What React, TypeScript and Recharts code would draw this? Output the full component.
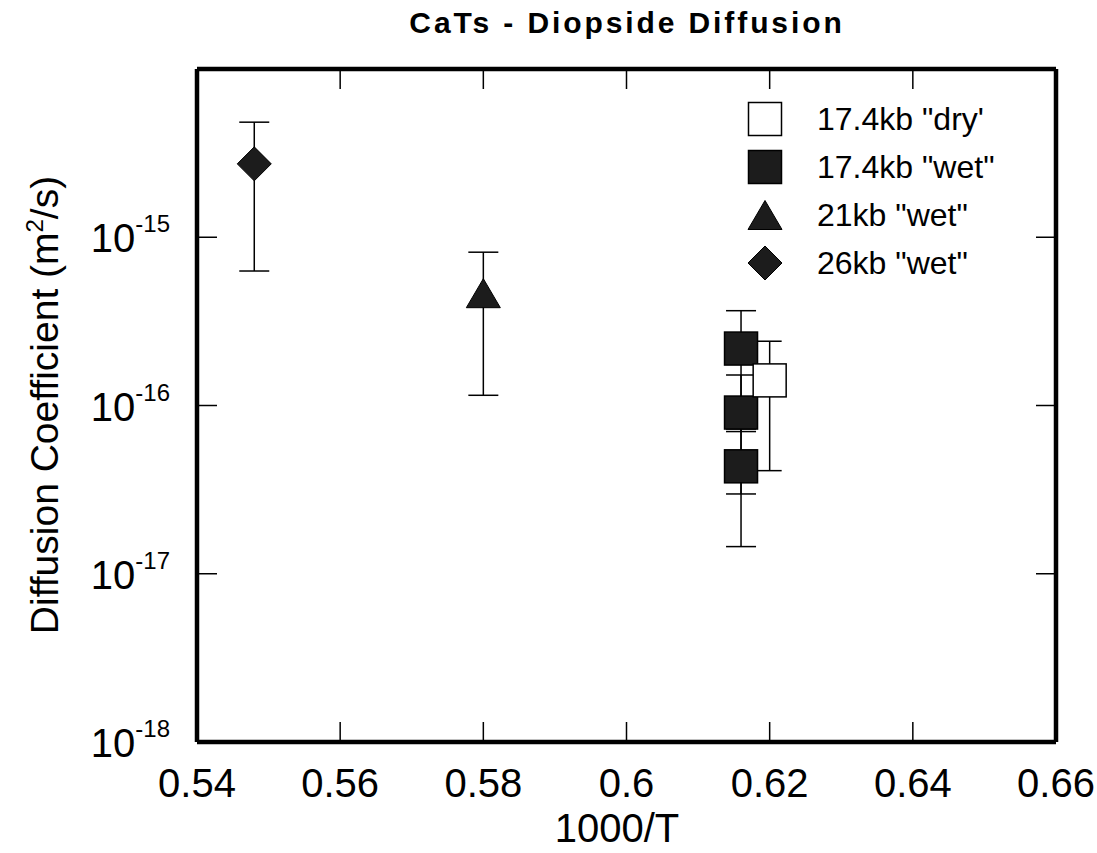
import React from 'react';
import { ScatterChart, Scatter, XAxis, YAxis, ErrorBar, Legend, Customized } from 'recharts';

const FONT = '"Liberation Sans", Arial, Helvetica, sans-serif';
const INK = '#000';
const DARK = '#1c1c1c';

// axis ticks
const xTicks = [0.54, 0.56, 0.58, 0.6, 0.62, 0.64, 0.66];
const yTicks = [1e-18, 1e-17, 1e-16, 1e-15, 1e-14];

// series (1000/T, D in m2/s, +/- error)
const dryX = [0.62];
const dryY = [1.41e-16];
const dryErr = [1.0e-16];

const wetX = [0.616, 0.616, 0.616];
const wetY = [2.18e-16, 9.08e-17, 4.35e-17];
const wetErr = [1.48e-16, 6.1e-17, 2.9e-17];

const kb21X = [0.58];
const kb21Y = [4.65e-16];
const kb21Err = [3.5e-16];

const kb26X = [0.548];
const kb26Y = [2.73e-15];
const kb26Err = [2.1e-15];

const seriesNames = ['17.4kb "dry\'', '17.4kb "wet"', '21kb "wet"', '26kb "wet"'];
const seriesKinds = ['open', 'square', 'triangle', 'diamond'];

const toRows = (xs: number[], ys: number[], errs: number[]) =>
  xs.map((x, i) => ({ x, y: ys[i], err: [errs[i], errs[i]] }));

function marker(kind: string, cx: number, cy: number) {
  if (kind === 'open' || kind === 'square') {
    return (
      <rect
        x={cx - 16.5}
        y={cy - 16.5}
        width={33}
        height={33}
        fill={kind === 'open' ? '#fff' : DARK}
        stroke={INK}
        strokeWidth={1.5}
      />
    );
  }
  if (kind === 'triangle') {
    return (
      <polygon
        points={`${cx},${cy - 14.5} ${cx + 17},${cy + 14.5} ${cx - 17},${cy + 14.5}`}
        fill={DARK}
        stroke={INK}
        strokeWidth={1}
      />
    );
  }
  return (
    <polygon
      points={`${cx},${cy - 17} ${cx + 17},${cy} ${cx},${cy + 17} ${cx - 17},${cy}`}
      fill={DARK}
      stroke={INK}
      strokeWidth={1}
    />
  );
}

const shapeFor = (kind: string) => (props: any) => marker(kind, props.cx, props.cy);

// bottom axis: inward tick marks + labels below
const BottomTick = ({ x, y, payload }: any) => {
  const v = payload.value;
  const inner = v > 0.545 && v < 0.655;
  return (
    <g>
      {inner && <line x1={x} x2={x} y1={y} y2={y - 20} stroke={INK} strokeWidth={1.5} />}
      <text x={x} y={y + 55} textAnchor="middle" fontSize={40} fontFamily={FONT} fill={INK}>
        {String(v)}
      </text>
    </g>
  );
};

const TopTick = ({ x, y, payload }: any) => {
  const v = payload.value;
  if (v < 0.545 || v > 0.655) return <g />;
  return <line x1={x} x2={x} y1={y} y2={y + 20} stroke={INK} strokeWidth={1.5} />;
};

const LeftTick = ({ x, y, payload }: any) => {
  const exp = Math.round(Math.log10(payload.value));
  return (
    <g>
      {exp > -18 && exp < -14 && (
        <line x1={x} x2={x + 20} y1={y} y2={y} stroke={INK} strokeWidth={1.5} />
      )}
      {exp <= -15 && (
        <text x={x - 27} y={y + 15} textAnchor="end" fontSize={40} fontFamily={FONT} fill={INK}>
          10
          <tspan dy={-20} fontSize={24}>
            {String(exp)}
          </tspan>
        </text>
      )}
    </g>
  );
};

const RightTick = ({ x, y, payload }: any) => {
  const exp = Math.round(Math.log10(payload.value));
  if (exp <= -18 || exp >= -14) return <g />;
  return <line x1={x} x2={x - 20} y1={y} y2={y} stroke={INK} strokeWidth={1.5} />;
};

const LegendBox = () => (
  <div style={{ fontFamily: FONT, fontSize: 32, color: INK }}>
    {seriesNames.map((name, i) => (
      <div key={name} style={{ display: 'flex', alignItems: 'center', height: 48 }}>
        <svg width={36} height={36} style={{ display: 'block' }}>
          {marker(seriesKinds[i], 18, 18)}
        </svg>
        <span style={{ marginLeft: 34, whiteSpace: 'pre', lineHeight: '36px' }}>{name}</span>
      </div>
    ))}
  </div>
);

const Titles = () => (
  <g fontFamily={FONT} fill={INK}>
    <text
      x={627}
      y={33}
      textAnchor="middle"
      fontSize={30}
      fontWeight="bold"
      letterSpacing={2.9}
    >
      CaTs - Diopside Diffusion
    </text>
    <text x={617} y={842} textAnchor="middle" fontSize={40}>
      1000/T
    </text>
    <text x={58} y={405} textAnchor="middle" fontSize={39} transform="rotate(-90, 58, 405)">
      Diffusion Coefficient (m
      <tspan dy={-15} fontSize={24}>
        2
      </tspan>
      <tspan dy={15}>/s)</tspan>
    </text>
  </g>
);

const noMark = () => <g />;

export default function App() {
  return (
    <div style={{ position: 'absolute', left: 0, top: 0, background: '#fff' }}>
      <ScatterChart width={1097} height={853} margin={{ top: 68, right: 40, bottom: 0, left: 0 }}>
        <XAxis
          xAxisId="b"
          dataKey="x"
          type="number"
          domain={[0.54, 0.66]}
          ticks={xTicks}
          interval={0}
          height={111}
          allowDataOverflow
          axisLine={{ stroke: INK, strokeWidth: 4.5 }}
          tickLine={false}
          tickSize={0}
          tickMargin={0}
          tick={<BottomTick />}
        />
        <XAxis
          xAxisId="t"
          dataKey="x"
          orientation="top"
          type="number"
          domain={[0.54, 0.66]}
          ticks={xTicks}
          interval={0}
          height={1}
          allowDataOverflow
          axisLine={{ stroke: INK, strokeWidth: 4.5 }}
          tickLine={false}
          tickSize={0}
          tickMargin={0}
          tick={<TopTick />}
        />
        <YAxis
          yAxisId="l"
          dataKey="y"
          type="number"
          scale="log"
          domain={[1e-18, 1e-14]}
          ticks={yTicks}
          interval={0}
          width={197}
          allowDataOverflow
          axisLine={{ stroke: INK, strokeWidth: 4.5 }}
          tickLine={false}
          tickSize={0}
          tickMargin={0}
          tick={<LeftTick />}
        />
        <YAxis
          yAxisId="r"
          dataKey="y"
          orientation="right"
          type="number"
          scale="log"
          domain={[1e-18, 1e-14]}
          ticks={yTicks}
          interval={0}
          width={1}
          allowDataOverflow
          axisLine={{ stroke: INK, strokeWidth: 4.5 }}
          tickLine={false}
          tickSize={0}
          tickMargin={0}
          tick={<RightTick />}
        />
        {/* invisible series so the top/right frame axes are drawn */}
        <Scatter
          data={toRows(wetX, wetY, wetErr)}
          xAxisId="t"
          yAxisId="r"
          shape={noMark}
          legendType="none"
          isAnimationActive={false}
        />
        <Scatter
          name={seriesNames[1]}
          data={toRows(wetX, wetY, wetErr)}
          xAxisId="b"
          yAxisId="l"
          shape={shapeFor('square')}
          isAnimationActive={false}
        >
          <ErrorBar dataKey="err" direction="y" width={15} stroke={INK} strokeWidth={1.5} />
        </Scatter>
        <Scatter
          name={seriesNames[0]}
          data={toRows(dryX, dryY, dryErr)}
          xAxisId="b"
          yAxisId="l"
          shape={shapeFor('open')}
          isAnimationActive={false}
        >
          <ErrorBar dataKey="err" direction="y" width={12} stroke={INK} strokeWidth={1.5} />
        </Scatter>
        <Scatter
          name={seriesNames[2]}
          data={toRows(kb21X, kb21Y, kb21Err)}
          xAxisId="b"
          yAxisId="l"
          shape={shapeFor('triangle')}
          isAnimationActive={false}
        >
          <ErrorBar dataKey="err" direction="y" width={15} stroke={INK} strokeWidth={1.5} />
        </Scatter>
        <Scatter
          name={seriesNames[3]}
          data={toRows(kb26X, kb26Y, kb26Err)}
          xAxisId="b"
          yAxisId="l"
          shape={shapeFor('diamond')}
          isAnimationActive={false}
        >
          <ErrorBar dataKey="err" direction="y" width={15} stroke={INK} strokeWidth={1.5} />
        </Scatter>
        <Legend
          layout="vertical"
          align="center"
          verticalAlign="middle"
          wrapperStyle={{ left: 747, top: 95, width: 'auto', right: 'auto', bottom: 'auto' }}
          content={() => <LegendBox />}
        />
        <Customized component={Titles} />
      </ScatterChart>
    </div>
  );
}
